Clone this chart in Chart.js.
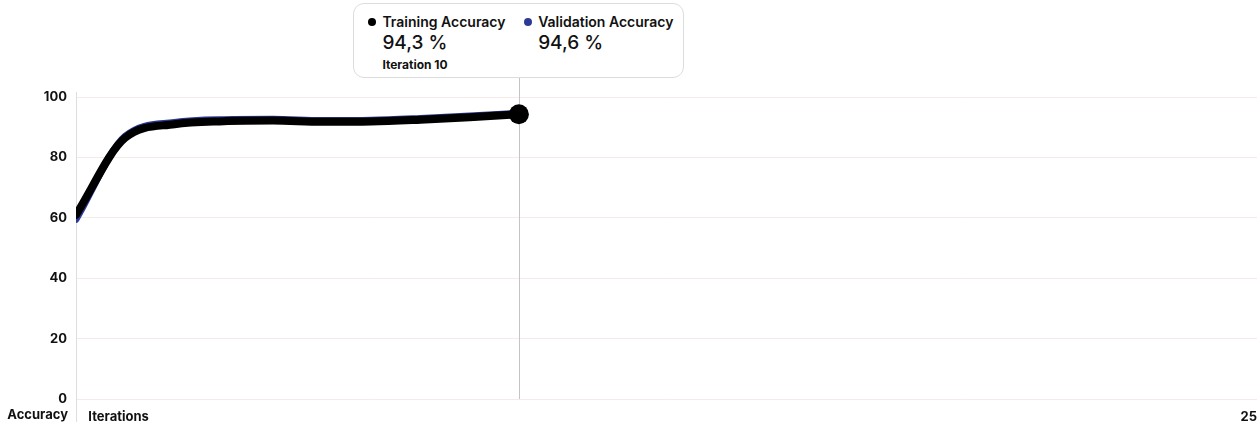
<!DOCTYPE html>
<html>
<head>
<meta charset="utf-8">
<script src="https://cdn.jsdelivr.net/npm/chart.js@4.4.1/dist/chart.umd.min.js"></script>
<style>
html, body { margin: 0; padding: 0; background: #fff; }
#wrap { position: relative; width: 1259px; height: 422px; font-family: Inter, "Noto Sans", sans-serif; }
#tip {
	position: absolute; top: 3px; height: 75px; width: 331px; box-sizing: border-box;
	background: #fff; border: 1px solid #dcdcdc; border-radius: 11px;
	padding: 9px 10px 0 14px; display: flex; color: #111;
}
#tip .col { width: 157px; }
#tip .col + .col { width: 150px; }
#tip .lbl { font-size: 14px; font-weight: 600; line-height: 17px; white-space: nowrap; }
#tip .dot { display: inline-block; width: 8px; height: 8px; border-radius: 50%; margin-right: 6px; vertical-align: 1px; }
#tip .val { font-size: 19px; font-weight: 500; line-height: 26px; margin-left: 14px; }
#tip .it { font-size: 12px; font-weight: 700; line-height: 18px; margin-left: 14px; }
</style>
</head>
<body>
<div id="wrap">
	<canvas id="Grafica" width="1259" height="422"></canvas>
	<div id="tip"></div>
</div>
<script>
// iterations seen so far and the two accuracy curves
const iterations = [1, 2, 3, 4, 5, 6, 7, 8, 9, 10];
const trainAcc = [61.0, 86.5, 91.0, 92.0, 92.2, 91.8, 91.9, 92.5, 93.3, 94.3];
const valAcc = [59.5, 87.0, 91.6, 92.5, 92.6, 92.2, 92.3, 92.9, 93.7, 94.6];
const yTicks = [0, 20, 40, 60, 80, 100];
const xMax = 25;
const activeIdx = iterations.length - 1;

const fmt = v => v.toFixed(1).replace('.', ',') + ' %';
const pts = arr => arr.map((v, i) => ({ x: iterations[i], y: v }));

let tip = document.querySelector('#tip');
tip.innerHTML =
	'<div class="col"><div class="lbl"><span class="dot" style="background:#000"></span>Training Accuracy</div>' +
	'<div class="val">' + fmt(trainAcc[activeIdx]) + '</div>' +
	'<div class="it">Iteration ' + iterations[activeIdx] + '</div></div>' +
	'<div class="col"><div class="lbl"><span class="dot" style="background:#2c3a96"></span>Validation Accuracy</div>' +
	'<div class="val">' + fmt(valAcc[activeIdx]) + '</div></div>';

const hoverLine = {
	id: 'hoverLine',
	beforeDatasetsDraw(chart) {
		const ctx = chart.ctx;
		const x = chart.scales.x.getPixelForValue(iterations[activeIdx]);
		ctx.save();
		ctx.strokeStyle = '#c4c4c4';
		ctx.lineWidth = 1;
		ctx.beginPath();
		ctx.moveTo(Math.round(x) + 0.5, 78);
		ctx.lineTo(Math.round(x) + 0.5, chart.chartArea.bottom);
		ctx.stroke();
		// y axis line running down through the label row
		ctx.strokeStyle = '#dedede';
		ctx.beginPath();
		ctx.moveTo(chart.chartArea.left + 0.5, chart.chartArea.top - 5);
		ctx.lineTo(chart.chartArea.left + 0.5, chart.height);
		ctx.stroke();
		ctx.restore();
		tip.style.left = (x - tip.offsetWidth / 2) + 'px';
	},
	afterDraw(chart) {
		const ctx = chart.ctx;
		ctx.save();
		ctx.font = '700 13px Inter';
		ctx.fillStyle = '#111';
		ctx.textAlign = 'right';
		ctx.textBaseline = 'middle';
		ctx.fillText('Accuracy', chart.chartArea.left - 8, 415);
		ctx.restore();
	}
};

var ctx = document.querySelector('#Grafica').getContext('2d');
var myChart = new Chart(ctx, {
	type: 'line',
	data: {
		datasets: [{
			label: 'Training Accuracy',
			data: pts(trainAcc),
			borderColor: '#000',
			backgroundColor: '#000',
			borderWidth: 8,
			borderCapStyle: 'round',
			pointRadius: ctx => ctx.dataIndex === activeIdx ? 10 : 0,
			pointBackgroundColor: '#000',
			pointBorderWidth: 0,
			cubicInterpolationMode: 'monotone',
			order: 1
		}, {
			label: 'Validation Accuracy',
			data: pts(valAcc),
			borderColor: '#2c3a96',
			backgroundColor: '#2c3a96',
			borderWidth: 7,
			borderCapStyle: 'round',
			pointRadius: 0,
			cubicInterpolationMode: 'monotone',
			order: 2
		}]
	},
	options: {
		responsive: false,
		animation: false,
		layout: { autoPadding: false, padding: { top: 97, right: 2, left: 0, bottom: 0 } },
		plugins: { legend: { display: false }, tooltip: { enabled: false } },
		scales: {
			x: {
				type: 'linear',
				min: iterations[0],
				max: xMax,
				grid: { display: false },
				border: { display: false },
				afterBuildTicks: axis => { axis.ticks = [{ value: iterations[0] }, { value: xMax }]; },
				afterFit: axis => { axis.height = 23; },
				ticks: {
					align: 'inner',
					autoSkip: false,
					maxRotation: 0,
					padding: 2,
					color: '#111',
					font: { family: 'Inter', size: 13, weight: '700' },
					callback: v => v === xMax ? String(xMax) : '    Iterations'
				}
			},
			y: {
				min: 0,
				max: 100,
				afterBuildTicks: axis => { axis.ticks = yTicks.map(v => ({ value: v })); },
				afterFit: axis => { axis.width = 76; },
				grid: { color: '#f6e9e9', drawTicks: false },
				border: { display: false },
				ticks: {
					padding: 9,
					color: '#111',
					font: { family: 'Inter', size: 13, weight: '700' }
				}
			}
		}
	},
	plugins: [hoverLine]
});
</script>
</body>
</html>
